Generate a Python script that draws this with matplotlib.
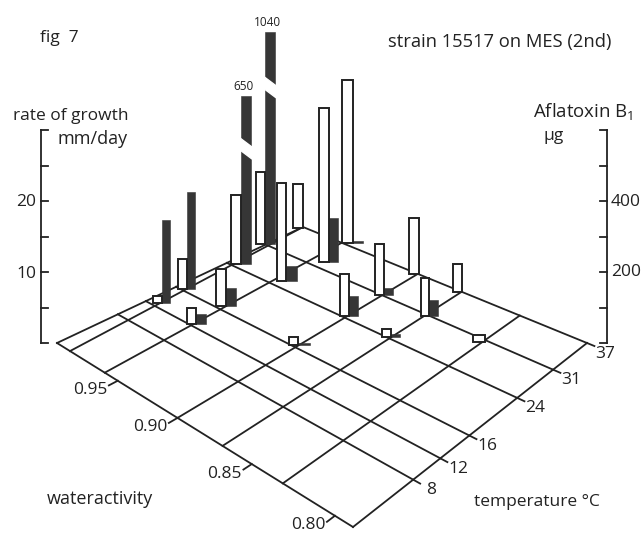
import numpy as np
import matplotlib
matplotlib.use('Agg')
import matplotlib.pyplot as plt

plt.rcParams['font.family'] = ['Open Sans', 'DejaVu Sans']
plt.rcParams['mathtext.default'] = 'regular'

# values, one entry per peg on the floor
water_activity = [0.99, 0.99, 0.96, 0.96, 0.90, 0.99, 0.99, 0.96, 0.99,
                  0.96, 0.96, 0.90, 0.90, 0.90, 0.87, 0.87, 0.87, 0.83]
temperature = [12, 16, 16, 12, 16, 24, 31, 24, 37,
               31, 37, 31, 37, 24, 31, 37, 24, 31]
growth_mm_day = [1.0, 4.2, 5.3, 2.3, 1.1, 9.7, 10.1, 13.7, 6.2,
                 21.7, 23.0, 7.2, 7.9, 5.9, 5.3, 3.9, 1.2, 1.0]
aflatoxin_ug = [234, 273, 51, 28, 5, 650, 1040, 42, 0,
                124, 6, 20, 0, 56, 45, 0, 11, 0]

# the two off-scale bars are cut and drawn shorter than their value
off_scale_drawn = {650: 473, 1040: 597}
off_scale_cut = {650: 355, 1040: 470}

aw_lines = [0.99, 0.96, 0.90, 0.87, 0.83]
temp_lines = [8, 12, 16, 24, 31]
aw_tick_values = [0.95, 0.90, 0.85, 0.80]
aw_tick_labels = ['0.95', '0.90', '0.85', '0.80']
temp_ticks = [8, 12, 16, 24, 31, 37]
growth_ticks = [10, 20]
toxin_ticks = [200, 400]

# floor layout, corners of the drawn plane in pixels
LEFT, FRONT, RIGHT, BACK = (57, 343), (353, 527), (587, 343), (303, 227)
AW_ANCHOR = [0.80, 0.83, 0.85, 0.87, 0.90, 0.95, 0.96, 0.99]
AW_POS_FRONT = [0.952, 0.806, 0.713, 0.621, 0.470, 0.250, 0.199, 0.056]
AW_POS_BACK = [0.940, 0.798, 0.700, 0.608, 0.454, 0.210, 0.162, 0.0]
TEMP_ANCHOR = [8, 12, 16, 24, 31, 37]
TEMP_POS = [0.211, 0.315, 0.433, 0.645, 0.820, 1.0]

GROWTH_PX = 7.1
TOXIN_PX = 0.355
BASE_Y = 343

# where each peg actually sits relative to the grid crossing
nudge_x = [7.4, 3.5, 5.6, 5, 2.6, 9.5, -3, 17, 0, 23, 11, 2, 1, 4, 3, 0, 1.5, 0]
nudge_y = [-2.7, -2, -3, -1, -2, -1, -2, -2, 1, 0, 0, 0, 0, -1.5, 1.5, 0, -1, 2]
white_w = [9, 9, 10, 9, 9, 10, 9, 9, 10, 10, 11, 9, 10, 9, 8, 9, 9, 12]
black_w = [8, 8, 10, 10, 12, 10, 10, 11, 0, 9, 10, 9, 0, 9, 9, 0, 9, 0]

INK = '#222222'
DARK = '#363636'
TEXT_SIZE = 12.5


def project(s, t):
    x0, y0 = LEFT
    x1, y1 = FRONT
    x2, y2 = RIGHT
    x3, y3 = BACK
    dx1, dx2, sx = x1 - x2, x3 - x2, x0 - x1 + x2 - x3
    dy1, dy2, sy = y1 - y2, y3 - y2, y0 - y1 + y2 - y3
    den = dx1 * dy2 - dx2 * dy1
    g = (sx * dy2 - dx2 * sy) / den
    h = (dx1 * sy - sx * dy1) / den
    w = 1 + g * s + h * t
    x = ((x1 - x0 + g * x1) * s + (x3 - x0 + h * x3) * t + x0) / w
    y = ((y1 - y0 + g * y1) * s + (y3 - y0 + h * y3) * t + y0) / w
    return x, y


def temp_pos(temp):
    return np.interp(temp, TEMP_ANCHOR, TEMP_POS)


def aw_pos(aw, t):
    front = np.interp(aw, AW_ANCHOR, AW_POS_FRONT)
    back = np.interp(aw, AW_ANCHOR, AW_POS_BACK)
    return front + (back - front) * t


def outward(p_from, p_to, length):
    d = np.array(p_to) - np.array(p_from)
    return np.array(p_to) + d / np.hypot(*d) * length


def text(x, y, s, size=TEXT_SIZE, **kw):
    ax.text(x, y + 1.5, s, fontsize=size, color=INK, ha='center', va='center', **kw)


fig = plt.figure(figsize=(6.42, 5.33), dpi=100)
ax = fig.add_axes([0, 0, 1, 1])
ax.set_xlim(0, 642)
ax.set_ylim(533, 0)
ax.axis('off')

lw = 1.3
# outline of the floor
for a, b in [(LEFT, FRONT), (FRONT, RIGHT), (RIGHT, BACK), (BACK, LEFT)]:
    ax.plot([a[0], b[0]], [a[1], b[1]], color=INK, lw=lw, zorder=1)

t_grid = np.linspace(0, 1, 30)
for aw in aw_lines:
    xs, ys = project(aw_pos(aw, t_grid), t_grid)
    ax.plot(xs, ys, color=INK, lw=lw, zorder=1)

s_grid = np.linspace(0, 1, 2)
for temp in temp_lines:
    xs, ys = project(s_grid, temp_pos(temp))
    ax.plot(xs, ys, color=INK, lw=lw, zorder=1)

# ticks and labels on the floor edges
for temp in temp_ticks:
    t = temp_pos(temp)
    edge = project(1.0, t)
    end = outward(project(0.9, t), edge, 8)
    ax.plot([edge[0], end[0]], [edge[1], end[1]], color=INK, lw=lw, zorder=1)
    text(edge[0] + 18, edge[1] + 9, str(temp))

for aw, lab in zip(aw_tick_values, aw_tick_labels):
    s0 = np.interp(aw, AW_ANCHOR, AW_POS_FRONT)
    edge = project(s0, 0.0)
    end = outward(project(s0, 0.1), edge, 10)
    ax.plot([edge[0], end[0]], [edge[1], end[1]], color=INK, lw=lw, zorder=1)
    text(edge[0] - 27, edge[1] + 8, lab)

# the pegs, back to front
node_x, node_y = [], []
for aw, temp, dx, dy in zip(water_activity, temperature, nudge_x, nudge_y):
    t = temp_pos(temp)
    x, y = project(aw_pos(aw, t), t)
    node_x.append(x + dx)
    node_y.append(y + dy)

order = np.argsort(node_y)
for rank, i in enumerate(order):
    z = 3 + rank
    x, y = node_x[i], node_y[i]
    toxin = aflatoxin_ug[i]
    drawn = off_scale_drawn.get(toxin, toxin)
    if black_w[i] > 0:
        bh = drawn * TOXIN_PX
        ax.bar(x + black_w[i] / 2, -max(bh, 2), black_w[i], bottom=y,
               color=DARK, edgecolor=DARK, linewidth=0.4, zorder=z)
        if toxin in off_scale_cut:
            cut = y - off_scale_cut[toxin] * TOXIN_PX
            xl, xr = x - 1, x + black_w[i] + 1
            ax.fill([xl, xr, xr, xl], [cut, cut + 9, cut + 21, cut + 12],
                    color='white', zorder=z + 0.5)
            text(x + black_w[i] / 2 - 3, y - bh - 11, str(toxin), size=8.5, zorder=z)
    ax.bar(x - white_w[i] / 2, -growth_mm_day[i] * GROWTH_PX, white_w[i], bottom=y,
           facecolor='white', edgecolor=INK, linewidth=1.4, zorder=z + 0.2)

# left scale, rate of growth
LEFT_X, RIGHT_X = 41, 607
tick_v = np.arange(0, 35, 5)
tick_y = BASE_Y - tick_v * GROWTH_PX
ax.plot([LEFT_X, LEFT_X], [tick_y[0], tick_y[-1]], color=INK, lw=lw)
for y in tick_y:
    ax.plot([LEFT_X, LEFT_X + 7], [y, y], color=INK, lw=lw)
for v in growth_ticks:
    text(LEFT_X - 15, BASE_Y - v * GROWTH_PX, str(v))

# right scale, aflatoxin
tick_v = np.arange(0, 700, 100)
tick_y = BASE_Y - tick_v * TOXIN_PX
ax.plot([RIGHT_X, RIGHT_X], [tick_y[0], tick_y[-1]], color=INK, lw=lw)
for y in tick_y:
    ax.plot([RIGHT_X, RIGHT_X - 7], [y, y], color=INK, lw=lw)
for v in toxin_ticks:
    text(RIGHT_X + 19, BASE_Y - v * TOXIN_PX - 1, str(v))

text(59, 36, 'fig  7')
text(500, 41, 'strain 15517 on MES (2nd)', size=13.2)
text(71, 114, 'rate of growth')
text(93, 137, 'mm/day', size=13)
text(583, 110, 'Aflatoxin B$_1$', size=13.4)
text(554, 135, '\u00b5g')
text(100, 497, 'wateractivity', size=13)
text(537, 500, 'temperature \u00b0C')

fig.savefig('out.png', dpi=100)
